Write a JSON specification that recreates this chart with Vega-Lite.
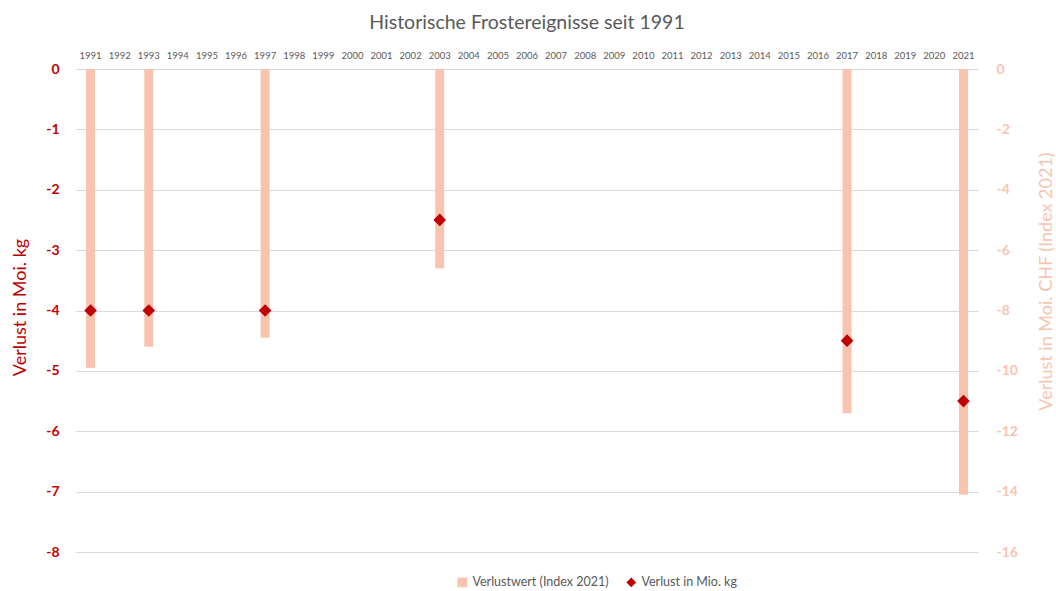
{
  "$schema": "https://vega.github.io/schema/vega-lite/v6.json",
  "width": 902,
  "height": 483,
  "autosize": {"type": "none"},
  "padding": {"left": 76, "top": 69, "right": 78, "bottom": 39},
  "background": "white",
  "config": {
    "font": "Lato",
    "view": {"stroke": null}
  },
  "title": {
    "text": "Historische Frostereignisse seit 1991",
    "fontSize": 19.5,
    "fontWeight": "normal",
    "color": "#595959",
    "font": "Lato",
    "anchor": "middle",
    "offset": 17
  },
  "data": {
    "values": [
      {"year": 1991, "series": "Verlustwert (Index 2021)", "value": -9.9},
      {"year": 1993, "series": "Verlustwert (Index 2021)", "value": -9.2},
      {"year": 1997, "series": "Verlustwert (Index 2021)", "value": -8.9},
      {"year": 2003, "series": "Verlustwert (Index 2021)", "value": -6.6},
      {"year": 2017, "series": "Verlustwert (Index 2021)", "value": -11.4},
      {"year": 2021, "series": "Verlustwert (Index 2021)", "value": -14.1},
      {"year": 1991, "series": "Verlust in Mio. kg", "value": -4},
      {"year": 1993, "series": "Verlust in Mio. kg", "value": -4},
      {"year": 1997, "series": "Verlust in Mio. kg", "value": -4},
      {"year": 2003, "series": "Verlust in Mio. kg", "value": -2.5},
      {"year": 2017, "series": "Verlust in Mio. kg", "value": -4.5},
      {"year": 2021, "series": "Verlust in Mio. kg", "value": -5.5}
    ]
  },
  "encoding": {
    "x": {
      "field": "year",
      "type": "ordinal",
      "scale": {
        "domain": [1991,1992,1993,1994,1995,1996,1997,1998,1999,2000,2001,2002,2003,2004,2005,2006,2007,2008,2009,2010,2011,2012,2013,2014,2015,2016,2017,2018,2019,2020,2021],
        "paddingInner": 0,
        "paddingOuter": 0
      },
      "axis": {
        "orient": "top",
        "title": null,
        "labelAngle": 0,
        "labelFontSize": 9.5,
        "labelColor": "#595959",
        "labelPadding": 9,
        "ticks": false,
        "domain": false,
        "grid": false
      }
    }
  },
  "layer": [
    {
      "transform": [{"filter": "datum.series === 'Verlustwert (Index 2021)'"}],
      "mark": {"type": "bar", "size": 9},
      "encoding": {
        "y": {
          "field": "value",
          "type": "quantitative",
          "scale": {"domain": [-16, 0], "nice": false},
          "axis": {
            "orient": "right",
            "title": "Verlust in Moi. CHF (Index 2021)",
            "titleColor": "#F8C4B0",
            "titleFontSize": 18,
            "titleFontWeight": "normal",
            "titleAngle": -90,
            "titleX": 68,
            "titleY": 212,
            "titleAlign": "center",
            "titleBaseline": "middle",
            "values": [0,-2,-4,-6,-8,-10,-12,-14,-16],
            "labelExpr": "'' + datum.value",
            "labelColor": "#F8C4B0",
            "labelFontSize": 14,
            "labelFontWeight": "bold",
            "labelPadding": 18,
            "ticks": false,
            "domain": false,
            "grid": false
          }
        },
        "color": {
          "field": "series",
          "type": "nominal",
          "scale": {
            "domain": ["Verlustwert (Index 2021)", "Verlust in Mio. kg"],
            "range": ["#F8C4B0", "#C00000"]
          },
          "legend": {
            "title": null,
            "orient": "none",
            "direction": "horizontal",
            "legendX": 380,
            "legendY": 507,
            "labelFontSize": 12.5,
            "labelColor": "#595959",
            "symbolSize": 95,
            "symbolStrokeWidth": 0,
            "columnPadding": 16,
            "labelOffset": 4
          }
        }
      }
    },
    {
      "transform": [{"filter": "datum.series === 'Verlust in Mio. kg'"}],
      "mark": {"type": "point", "filled": true, "size": 160, "opacity": 1},
      "encoding": {
        "y": {
          "field": "value",
          "type": "quantitative",
          "scale": {"domain": [-8, 0], "nice": false},
          "axis": {
            "orient": "left",
            "title": "Verlust in Moi. kg",
            "titleColor": "#C00000",
            "titleFontSize": 18,
            "titleFontWeight": "normal",
            "titleAngle": -90,
            "titleX": -56,
            "titleY": 238,
            "titleAlign": "center",
            "titleBaseline": "middle",
            "values": [0,-1,-2,-3,-4,-5,-6,-7,-8],
            "labelExpr": "'' + datum.value",
            "labelColor": "#C00000",
            "labelFontSize": 14,
            "labelFontWeight": "bold",
            "labelPadding": 17,
            "ticks": false,
            "domain": false,
            "grid": true,
            "gridColor": "#D9D9D9",
            "gridWidth": 1
          }
        },
        "color": {
          "field": "series",
          "type": "nominal",
          "scale": {
            "domain": ["Verlustwert (Index 2021)", "Verlust in Mio. kg"],
            "range": ["#F8C4B0", "#C00000"]
          }
        },
        "shape": {
          "field": "series",
          "type": "nominal",
          "scale": {
            "domain": ["Verlustwert (Index 2021)", "Verlust in Mio. kg"],
            "range": ["square", "diamond"]
          }
        }
      }
    }
  ],
  "resolve": {"scale": {"y": "independent"}}
}
